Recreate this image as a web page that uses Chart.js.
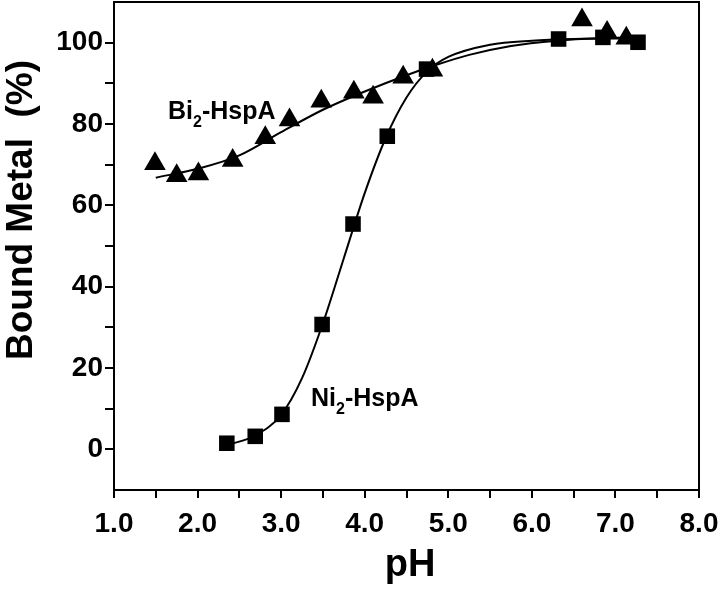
<!DOCTYPE html>
<html>
<head>
<meta charset="utf-8">
<script src="https://cdn.jsdelivr.net/npm/chart.js@4/dist/chart.umd.min.js"></script>
<style>
  html, body { margin: 0; padding: 0; background: #fff; }
  #wrap { width: 720px; height: 596px; }
</style>
</head>
<body>
<div id="wrap"><canvas id="ph-chart"></canvas></div>
<script>
var niPH   = [2.35, 2.69, 3.01, 3.49, 3.86, 4.27, 4.74, 6.32, 6.85, 7.27];
var niBound = [1.5, 3.2, 8.6, 30.7, 55.4, 77.0, 93.5, 100.9, 101.3, 100.1];

var biPH   = [1.49, 1.75, 2.01, 2.42, 2.81, 3.10, 3.48, 3.87, 4.10, 4.46, 4.81, 6.60, 6.90, 7.13];
var biBound = [70.2, 67.3, 67.7, 71.0, 76.6, 81.0, 85.6, 87.8, 86.6, 91.5, 93.2, 105.6, 102.5, 101.1];

// fitted curves
var niFitPH = [2.35, 2.7, 3.0, 3.25, 3.5, 3.75, 4.0, 4.25, 4.5, 4.75, 5.0, 5.5, 6.0, 6.5, 7.0, 7.3];
var niFit   = [1.0, 3.5, 8.5, 17.5, 31, 47, 63, 76.5, 86.5, 93, 96.5, 99.5, 100.5, 100.9, 101.0, 101.0];

var biFitPH = [1.5, 2.0, 2.5, 3.0, 3.5, 4.0, 4.5, 4.85, 5.25, 5.75, 6.3, 6.8, 7.3];
var biFit   = [66.8, 69.0, 72.3, 78.0, 83.5, 88.0, 92.0, 94.5, 97.0, 99.2, 100.5, 101.1, 101.3];

var xTickLabels = ['1.0', '2.0', '3.0', '4.0', '5.0', '6.0', '7.0', '8.0'];
var yTickLabels = ['0', '20', '40', '60', '80', '100'];

function pts(xs, ys) {
  var out = [];
  for (var i = 0; i < xs.length; i++) out.push({x: xs[i], y: ys[i]});
  return out;
}

const FONT = '"Liberation Sans", Arial, Helvetica, sans-serif';

// frame, axis titles and curve labels
const extras = {
  id: 'extras',
  afterDraw(chart) {
    const ctx = chart.ctx;
    const a = chart.chartArea;
    const xs = chart.scales.x, ys = chart.scales.y;
    ctx.save();
    ctx.strokeStyle = '#000';
    ctx.lineWidth = 2;
    ctx.strokeRect(a.left, a.top, a.right - a.left, a.bottom - a.top);

    ctx.fillStyle = '#000';
    // y title
    ctx.save();
    ctx.translate(22, 210);
    ctx.rotate(-Math.PI / 2);
    ctx.font = 'bold 37px ' + FONT;
    ctx.textAlign = 'center';
    ctx.textBaseline = 'middle';
    ctx.fillText('Bound Metal  (%)', 0, 0);
    ctx.restore();

    // x title
    ctx.font = 'bold 38px ' + FONT;
    ctx.textAlign = 'center';
    ctx.textBaseline = 'alphabetic';
    ctx.fillText('pH', 410, 576);

    // curve labels with subscript
    function label(main, sub, rest, xv, yv) {
      let px = xs.getPixelForValue(xv);
      const py = ys.getPixelForValue(yv);
      ctx.textAlign = 'left';
      ctx.font = 'bold 25px ' + FONT;
      ctx.fillText(main, px, py);
      px += ctx.measureText(main).width;
      ctx.font = 'bold 16px ' + FONT;
      ctx.fillText(sub, px, py + 8);
      px += ctx.measureText(sub).width;
      ctx.font = 'bold 25px ' + FONT;
      ctx.fillText(rest, px, py);
    }
    label('Bi', '2', '-HspA', 1.646, 81.3);
    label('Ni', '2', '-HspA', 3.357, 10.6);
    ctx.restore();
  }
};

new Chart(document.getElementById('ph-chart'), {
  type: 'scatter',
  data: {
    datasets: [
      {
        label: 'Ni2-HspA fit',
        data: pts(niFitPH, niFit),
        showLine: true,
        borderColor: '#000',
        borderWidth: 2,
        pointRadius: 0,
        cubicInterpolationMode: 'monotone',
        fill: false
      },
      {
        label: 'Bi2-HspA fit',
        data: pts(biFitPH, biFit),
        showLine: true,
        borderColor: '#000',
        borderWidth: 2,
        pointRadius: 0,
        cubicInterpolationMode: 'monotone',
        fill: false
      },
      {
        label: 'Bi2-HspA',
        data: pts(biPH, biBound),
        pointStyle: 'triangle',
        pointRadius: 12.5,
        backgroundColor: '#000',
        borderWidth: 0
      },
      {
        label: 'Ni2-HspA',
        data: pts(niPH, niBound),
        pointStyle: 'rect',
        pointRadius: 11,
        backgroundColor: '#000',
        borderWidth: 0
      }
    ]
  },
  options: {
    responsive: true,
    maintainAspectRatio: false,
    animation: false,
    layout: { autoPadding: false, padding: { top: 2, right: 21, left: 0, bottom: 0 } },
    plugins: {
      legend: { display: false },
      tooltip: { enabled: false }
    },
    scales: {
      x: {
        type: 'linear',
        min: 1,
        max: 8,
        afterFit(scale) {
          scale.height = 106;
          scale.paddingLeft = 0;
          scale.paddingRight = 0;
        },
        border: { display: true, color: '#000', width: 2 },
        grid: { display: true, drawOnChartArea: false, drawTicks: true, tickLength: 8, color: '#000', lineWidth: 2 },
        ticks: {
          stepSize: 0.5,
          padding: 9,
          maxRotation: 0,
          autoSkip: false,
          color: '#000',
          font: { family: FONT, size: 28, weight: 'bold' },
          callback: function (v) {
            return Number.isInteger(v) ? xTickLabels[v - 1] : '';
          }
        }
      },
      y: {
        type: 'linear',
        min: -10,
        max: 110,
        afterFit(scale) {
          scale.width = 114;
          scale.paddingTop = 0;
          scale.paddingBottom = 0;
        },
        afterBuildTicks(scale) {
          scale.ticks = scale.ticks.filter(function (t) { return t.value > -10 && t.value < 110; });
        },
        border: { display: true, color: '#000', width: 2 },
        grid: { display: true, drawOnChartArea: false, drawTicks: true, tickLength: 9, color: '#000', lineWidth: 2 },
        ticks: {
          stepSize: 10,
          padding: 2,
          autoSkip: false,
          color: '#000',
          font: { family: FONT, size: 28, weight: 'bold' },
          callback: function (v) {
            return v % 20 === 0 ? yTickLabels[v / 20] : '';
          }
        }
      }
    }
  },
  plugins: [extras]
});
</script>
</body>
</html>
